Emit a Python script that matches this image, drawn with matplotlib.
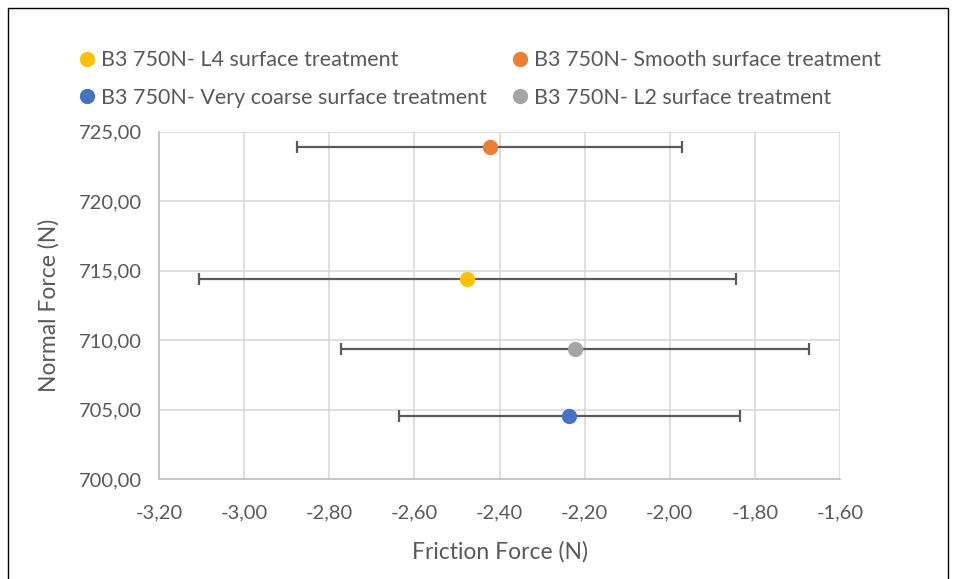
import matplotlib.pyplot as plt
from matplotlib.patches import Rectangle

plt.rcParams['font.family'] = ['Lato', 'DejaVu Sans']

# friction force (x), normal force (y) and x error per series
labels = ['B3 750N- L4 surface treatment', 'B3 750N- Smooth surface treatment',
          'B3 750N- Very coarse surface treatment', 'B3 750N- L2 surface treatment']
friction = [-2.476, -2.423, -2.236, -2.223]
normal = [714.43, 723.90, 704.55, 709.37]
friction_err = [0.631, 0.452, 0.401, 0.550]
colors = ['#FFC000', '#ED7D31', '#4472C4', '#A5A5A5']

x_ticks = [-3.2, -3.0, -2.8, -2.6, -2.4, -2.2, -2.0, -1.8, -1.6]
y_ticks = [700, 705, 710, 715, 720, 725]

text_col = '#595959'

fig = plt.figure(figsize=(9.56, 5.79), dpi=100)
ax = fig.add_axes([0.1663, 0.1722, 0.7124, 0.6003])

handles = []
for x, y, e, c, lab in zip(friction, normal, friction_err, colors, labels):
    ax.errorbar(x, y, xerr=e, fmt='none', ecolor='#5a5a5a', elinewidth=1.6,
                capsize=4, capthick=1.6, zorder=3)
    h, = ax.plot(x, y, 'o', color=c, markersize=11, markeredgewidth=0,
                 label=lab, zorder=4)
    handles.append(h)

ax.set_xlim(-3.2, -1.6)
ax.set_ylim(700, 725)
ax.set_xticks(x_ticks)
ax.set_yticks(y_ticks)
ax.set_xticklabels([f'{v:.2f}'.replace('.', ',') for v in x_ticks])
ax.set_yticklabels([f'{v:.2f}'.replace('.', ',') for v in y_ticks])
ax.tick_params(length=0, labelsize=14.5, colors=text_col)
ax.tick_params(axis='x', pad=18)
ax.tick_params(axis='y', pad=12)
ax.grid(True, color='#d9d9d9', linewidth=1.2)
ax.set_axisbelow(True)
for side in ['top', 'right']:
    ax.spines[side].set_visible(False)
for side in ['left', 'bottom']:
    ax.spines[side].set_color('#bfbfbf')
    ax.spines[side].set_linewidth(1.2)

ax.set_xlabel('Friction Force (N)', fontsize=16.5, color=text_col, labelpad=14)
ax.set_ylabel('Normal Force (N)', fontsize=16.5, color=text_col, labelpad=14)

# legend, two columns above the plot
order = [0, 2, 1, 3]
fig.legend([handles[i] for i in order], [labels[i] for i in order],
           ncol=2, loc='upper left', bbox_to_anchor=(0.076, 0.928),
           frameon=False, fontsize=15.5, labelcolor=text_col,
           handlelength=0.55, handletextpad=0.35, labelspacing=0.8,
           columnspacing=1.3, borderaxespad=0)

# chart area border
fig.patches.append(Rectangle((0.008, -0.01), 0.984, 0.996, transform=fig.transFigure,
                             fill=False, edgecolor='black', linewidth=1))

fig.savefig('out.png', dpi=100)
